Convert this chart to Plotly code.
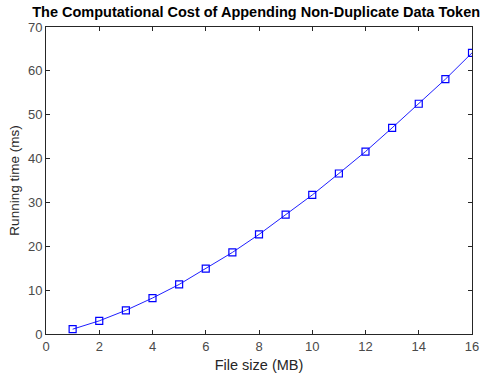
import plotly.graph_objects as go

file_size_mb = [1, 2, 3, 4, 5, 6, 7, 8, 9, 10, 11, 12, 13, 14, 15, 16]
running_time_ms = [1.1, 3.0, 5.4, 8.2, 11.3, 14.9, 18.6, 22.7, 27.2, 31.7, 36.6, 41.6, 47.0, 52.5, 58.1, 64.1]

x_ticks = [0, 2, 4, 6, 8, 10, 12, 14, 16]
y_ticks = [0, 10, 20, 30, 40, 50, 60, 70]

FONT = "Liberation Sans, Arial, sans-serif"

fig = go.Figure()
fig.add_trace(go.Scatter(
    x=file_size_mb, y=running_time_ms, mode="lines+markers",
    line=dict(color="#1f1fff", width=1),
    marker=dict(symbol="square-open", size=7, color="#0000ff", line=dict(width=1.2)),
    showlegend=False,
))

axis_common = dict(
    showgrid=False, zeroline=False, showline=True, mirror="ticks",
    linecolor="#262626", linewidth=1, ticks="inside", ticklen=4,
    tickcolor="#262626",
    tickfont=dict(family=FONT, size=13, color="#4a4a4a"),
)

fig.update_layout(
    width=486, height=373,
    margin=dict(l=46, r=14, t=27, b=39),
    paper_bgcolor="white", plot_bgcolor="white",
    title=dict(text="<b>The Computational Cost of Appending Non-Duplicate Data Token</b>",
               font=dict(family=FONT, size=14.5, color="black"),
               x=0.527, xanchor="center", y=0.968, yanchor="middle"),
    xaxis=dict(range=[0, 16], tickvals=x_ticks, automargin=False,
               title=dict(text="File size (MB)", font=dict(family=FONT, size=14.5, color="#262626")),
               **axis_common),
    yaxis=dict(range=[0, 70], tickvals=y_ticks, automargin=True,
               title=dict(text="Running time (ms)", font=dict(family=FONT, size=13.5, color="#262626"), standoff=5),
               **axis_common),
)

fig.write_html("out.html", config={"displayModeBar": False},
               post_script="document.body.style.margin='0';document.body.style.padding='0';")
